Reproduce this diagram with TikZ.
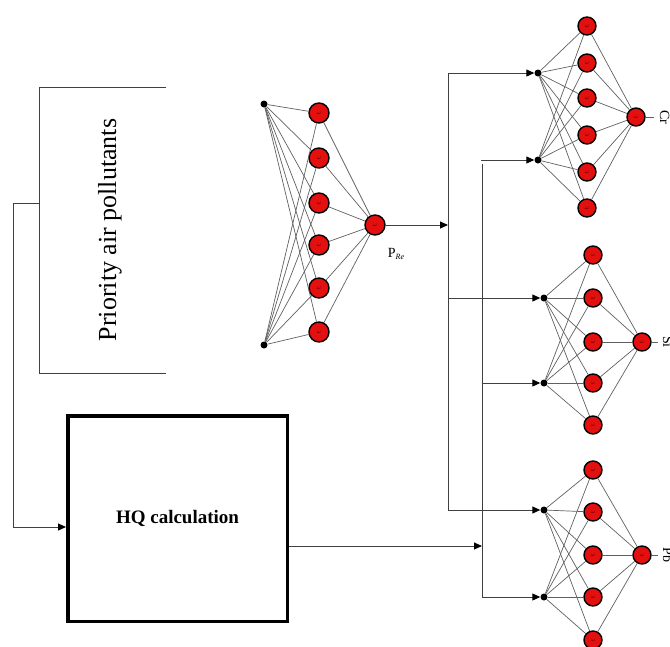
\documentclass[tikz,border=0pt]{standalone}
\usepackage{fontspec}
\setmainfont{Liberation Serif}
\usetikzlibrary{arrows.meta}
\definecolor{nred}{HTML}{E41010}
\definecolor{lgray}{HTML}{606060}
\definecolor{cgray}{HTML}{404040}
\newcommand\wg{{\fontsize{6}{6}\selectfont\color{red!35!black}$\omega$}}
\begin{document}
\begin{tikzpicture}[x=1pt,y=-1pt,
  neuron/.style={circle,draw=black,line width=1.4pt,fill=nred,inner sep=0pt,minimum size=20pt},
  sneuron/.style={neuron,minimum size=18pt},
  indot/.style={circle,fill=black,inner sep=0pt,minimum size=7pt},
  edge/.style={draw=lgray,line width=0.7pt},
  conn/.style={draw=cgray,line width=1pt},
  arr/.style={conn,-{Triangle[length=8pt,width=7pt,color=black]}},
  lab/.style={font=\fontsize{14}{16}\selectfont,rotate=-90,anchor=base,inner sep=0pt}]
\useasboundingbox (0,0) rectangle (670,646);

% Priority air pollutants bracket
\draw[conn] (166,87) -- (39,87) -- (39,373) -- (166,373);
\node[rotate=90,font=\fontsize{26}{30}\selectfont] (pap) at (110,230) {Priority air pollutants};

% HQ box
\node[draw=black,line width=3.5pt,minimum width=219.5pt,minimum height=205.5pt,
      font=\fontsize{19}{22}\selectfont\bfseries] (hq) at (177.5,518.5) {HQ calculation};

\coordinate (B) at (39,203);
\coordinate (BL) at (13,203);
\coordinate (BD) at (13,527);
\draw[arr] (B) -- (BL) -- (BD) -- (hq.west |- BD);

% Network 1
\node[indot] (i1) at (264,104) {};
\node[indot] (i2) at (264,345) {};
\foreach \y [count=\k] in {113,158,203,245,288,332}
  \node[neuron] (h\k) at (319,\y) {\wg};
\node[neuron] (po) at (375,225) {\wg};
\foreach \k in {1,...,6} {
  \draw[edge] (i1) -- (h\k);
  \draw[edge] (i2) -- (h\k);
  \draw[edge] (h\k) -- (po);
}
\node[font=\fontsize{14}{16}\selectfont,inner sep=0pt] (pre) at (396,254) {P\raisebox{-2pt}{\fontsize{8}{8}\selectfont\itshape Re}};

% Network 2 (Cr)
\node[indot] (a1) at (538,73) {};
\node[indot] (a2) at (538,160) {};
\foreach \y [count=\k] in {26,63,98,135,172,208}
  \node[sneuron] (b\k) at (587,\y) {\wg};
\node[sneuron] (bo) at (636,117) {\wg};
\foreach \k in {1,...,6} {
  \draw[edge] (a1) -- (b\k);
  \draw[edge] (a2) -- (b\k);
  \draw[edge] (b\k) -- (bo);
}
\coordinate (bx) at (654,117);
\draw[edge] (bo) -- (bx);
\node[lab] (lcr) at (660,117) {Cr};

% Network 3
\node[indot] (c1) at (544,298) {};
\node[indot] (c2) at (544,383) {};
\foreach \y [count=\k] in {255,298,342,383,425}
  \node[sneuron] (e\k) at (593,\y) {\wg};
\node[sneuron] (eo) at (642,342) {\wg};
\foreach \k in {1,...,5} {
  \draw[edge] (c1) -- (e\k);
  \draw[edge] (c2) -- (e\k);
  \draw[edge] (e\k) -- (eo);
}
\coordinate (ex) at (658,342);
\draw[edge] (eo) -- (ex);
\node[lab] (lsi) at (663,342) {Si};

% Network 4
\node[indot] (d1) at (544,510) {};
\node[indot] (d2) at (544,597) {};
\foreach \y [count=\k] in {470,512,555,597,640}
  \node[sneuron] (f\k) at (593,\y) {\wg};
\node[sneuron] (fo) at (642,555) {\wg};
\foreach \k in {1,...,5} {
  \draw[edge] (d1) -- (f\k);
  \draw[edge] (d2) -- (f\k);
  \draw[edge] (f\k) -- (fo);
}
\coordinate (fx) at (658,555);
\draw[edge] (fo) -- (fx);
\node[lab] (lpb) at (663,555) {Pb};

% distribution lines
\coordinate (L1) at (448,73);
\coordinate (LP) at (448,225);
\coordinate (L2) at (448,298);
\coordinate (L3) at (448,510);
\coordinate (R1) at (481,160);
\coordinate (R1b) at (482,164);
\coordinate (RH) at (482,546);
\coordinate (R2) at (482,383);
\coordinate (R3) at (482,597);
\draw[conn] (L1) -- (L3);
\draw[conn] (R1b) -- (R3);
\draw[arr] (L1) -- (a1);
\draw[arr] (L2) -- (c1);
\draw[arr] (L3) -- (d1);
\draw[arr] (R1) -- (a2);
\draw[arr] (R2) -- (c2);
\draw[arr] (R3) -- (d2);
\draw[arr] (po) -- (LP);
\draw[arr] (hq.east |- RH) -- (RH);
\end{tikzpicture}
\end{document}
